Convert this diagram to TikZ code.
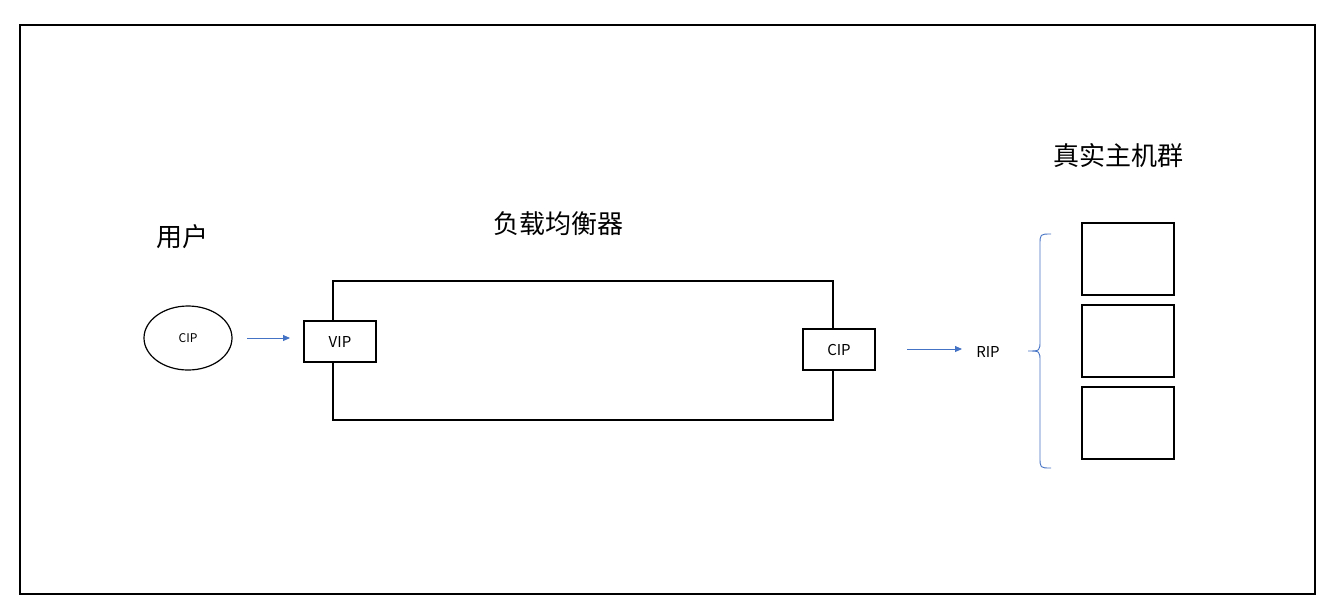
\documentclass[tikz,border=0pt]{standalone}
\usepackage{fontspec}
\setmainfont{Noto Sans CJK SC}
\usetikzlibrary{arrows.meta,shapes.geometric}
\definecolor{ablue}{HTML}{4472C4}
\begin{document}
\begin{tikzpicture}[x=1pt,y=-1pt,
  bx/.style={draw=black,line width=1.2pt,fill=white},
  arr/.style={ablue,line width=0.9pt,-{Triangle[length=7pt,width=6pt]}},
  big/.style={font=\fontsize{26}{30}\selectfont},
  sm/.style={font=\fontsize{15}{18}\selectfont}]
\useasboundingbox (0,0) rectangle (1335,614);
\draw[line width=1.2pt] (20,25) rectangle (1315,594);
\node[big] (lu) at (182,237) {用户};
\node[big] (llb) at (558,224) {负载均衡器};
\node[big] (lr) at (1118,156) {真实主机群};
\node[draw,ellipse,line width=1.2pt,minimum width=88pt,minimum height=64pt,font=\fontsize{12}{14}\selectfont] (cip) at (188,338) {CIP};
\draw[bx] (333,281) rectangle (833,420);
\node[bx,minimum width=72pt,minimum height=41pt,sm] (vip) at (340,341.5) {VIP};
\node[bx,minimum width=72pt,minimum height=41pt,sm] (cip2) at (839,349.5) {CIP};
\coordinate (a1) at (247,338); \coordinate (a2) at (290,338);
\draw[arr] (a1) -- (a2);
\coordinate (b1) at (907,349); \coordinate (b2) at (962,349);
\draw[arr] (b1) -- (b2);
\node[sm] (rip) at (988,352) {RIP};
\draw[ablue,line width=0.9pt] (1051,234) .. controls (1040,234) .. (1040,245) -- (1040,340) .. controls (1040,351) .. (1028,351) .. controls (1040,351) .. (1040,362) -- (1040,457) .. controls (1040,468) .. (1051,468);
\node[bx,minimum width=92pt,minimum height=72pt] (s1) at (1128,259) {};
\node[bx,minimum width=92pt,minimum height=72pt] (s2) at (1128,341) {};
\node[bx,minimum width=92pt,minimum height=72pt] (s3) at (1128,423) {};
\end{tikzpicture}
\end{document}
